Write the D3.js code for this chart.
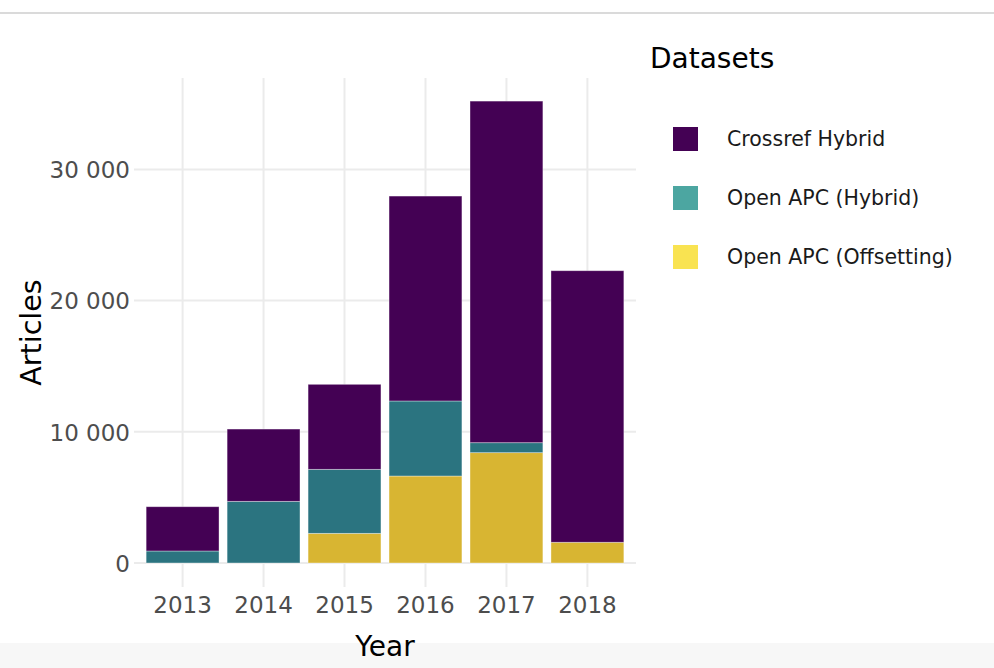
<!DOCTYPE html>
<html>
<head>
<meta charset="utf-8">
<script src="https://cdn.jsdelivr.net/npm/d3@7"></script>
<style>
  body { margin: 0; background: #fff; }
  svg, svg text { font-family: "DejaVu Sans", Verdana, sans-serif; }
  svg { display: block; }
</style>
</head>
<body>
<div id="result"></div>
<script>
/* Data */
var years = ["2013", "2014", "2015", "2016", "2017", "2018"];
var seriesNames = ["Open APC (Offsetting)", "Open APC (Hybrid)", "Crossref Hybrid"];
var offsetting = [0, 0, 2260, 6630, 8410, 1580];
var apcHybrid = [915, 4700, 4880, 5720, 760, 0];
var crossrefHybrid = [3375, 5510, 6480, 15620, 26040, 20700];
var yTicks = [0, 10000, 20000, 30000];
var legendOrder = ["Crossref Hybrid", "Open APC (Hybrid)", "Open APC (Offsetting)"];

var width = 994, height = 668;
var plotLeft = 134, plotRight = 636, plotTop = 78, plotBottom = 587;

// bar colours vs (lighter) legend key colours
var barColor = d3.scaleOrdinal().domain(seriesNames).range(["#d8b532", "#2b7480", "#440154"]);
var keyColor = d3.scaleOrdinal().domain(seriesNames).range(["#f9e351", "#4ca6a1", "#440154"]);

var rows = years.map(function (y, i) {
    return { year: y, "Open APC (Offsetting)": offsetting[i], "Open APC (Hybrid)": apcHybrid[i], "Crossref Hybrid": crossrefHybrid[i] };
});
var stacked = d3.stack().keys(seriesNames)(rows);

var x = d3.scaleBand().domain(years).range([plotLeft, plotRight]).paddingInner(0.1).paddingOuter(0.15);
var y = d3.scaleLinear().domain([-1830, 36970]).range([plotBottom, plotTop]);

var svg = d3.select("#result").append("svg")
    .attr("width", width)
    .attr("height", height);

// top rule and bottom grey strip
svg.append("rect").attr("x", 0).attr("y", 12).attr("width", width).attr("height", 2).attr("fill", "#dadada");
svg.append("rect").attr("x", 0).attr("y", 643).attr("width", width).attr("height", height - 643).attr("fill", "#f7f7f7");

// grid
var grid = svg.append("g").attr("class", "grid");
grid.selectAll("line.h").data(yTicks).enter().append("line")
    .attr("class", "h")
    .attr("x1", plotLeft).attr("x2", plotRight)
    .attr("y1", function (d) { return y(d); })
    .attr("y2", function (d) { return y(d); })
    .attr("stroke", "#ebebeb").attr("stroke-width", 2);
grid.selectAll("line.v").data(years).enter().append("line")
    .attr("class", "v")
    .attr("x1", function (d) { return x(d) + x.bandwidth() / 2; })
    .attr("x2", function (d) { return x(d) + x.bandwidth() / 2; })
    .attr("y1", plotTop).attr("y2", plotBottom)
    .attr("stroke", "#ebebeb").attr("stroke-width", 2);

// bars
svg.append("g").selectAll("g").data(stacked).enter().append("g")
    .attr("fill", function (d) { return barColor(d.key); })
    .selectAll("rect").data(function (d) { return d.filter(function (s) { return s[1] - s[0] > 0; }); })
    .enter().append("rect")
    .attr("x", function (d) { return x(d.data.year); })
    .attr("width", x.bandwidth())
    .attr("y", function (d) { return y(d[1]); })
    .attr("height", function (d) { return y(d[0]) - y(d[1]); })
    .attr("stroke", "rgba(255,255,255,0.45)")
    .attr("stroke-width", 0.8);

// axes
var fmt = function (d) { return d3.format(",")(d).replace(/,/g, " "); };
var yAxis = svg.append("g")
    .attr("transform", "translate(" + (plotLeft - 4) + ",0)")
    .call(d3.axisLeft(y).tickValues(yTicks).tickFormat(fmt).tickSize(0).tickPadding(0));
yAxis.attr("font-family", null).attr("font-size", null);
yAxis.select(".domain").remove();
yAxis.selectAll("text").attr("fill", "#4d4d4d").style("font-size", "23px").attr("dy", "0.36em");

var xAxis = svg.append("g")
    .attr("transform", "translate(0," + plotBottom + ")")
    .call(d3.axisBottom(x).tickSize(0).tickPadding(0));
xAxis.attr("font-family", null).attr("font-size", null);
xAxis.select(".domain").remove();
xAxis.selectAll("text").attr("fill", "#4d4d4d").style("font-size", "23px").attr("dy", null).attr("y", 26);

// axis titles
svg.append("text")
    .attr("x", (plotLeft + plotRight) / 2).attr("y", 656)
    .attr("text-anchor", "middle")
    .style("font-size", "28px").attr("fill", "#000")
    .text("Year");
svg.append("text")
    .attr("transform", "translate(41," + ((plotTop + plotBottom) / 2) + ") rotate(-90)")
    .attr("text-anchor", "middle")
    .style("font-size", "28.5px").attr("fill", "#000")
    .text("Articles");

// legend
var legend = svg.append("g").attr("transform", "translate(650,0)");
legend.append("text").attr("x", 0).attr("y", 68)
    .style("font-size", "28px").attr("fill", "#000")
    .text("Datasets");
var item = legend.selectAll("g.item").data(legendOrder).enter().append("g")
    .attr("class", "item")
    .attr("transform", function (d, i) { return "translate(0," + (139 + i * 59) + ")"; });
item.append("rect")
    .attr("x", 23).attr("y", -12).attr("width", 25).attr("height", 24)
    .attr("fill", function (d) { return keyColor(d); });
item.append("text")
    .attr("x", 77).attr("y", 0).attr("dy", "0.36em")
    .style("font-size", "20.5px").attr("fill", "#1a1a1a")
    .text(function (d) { return d; });
</script>
</body>
</html>
